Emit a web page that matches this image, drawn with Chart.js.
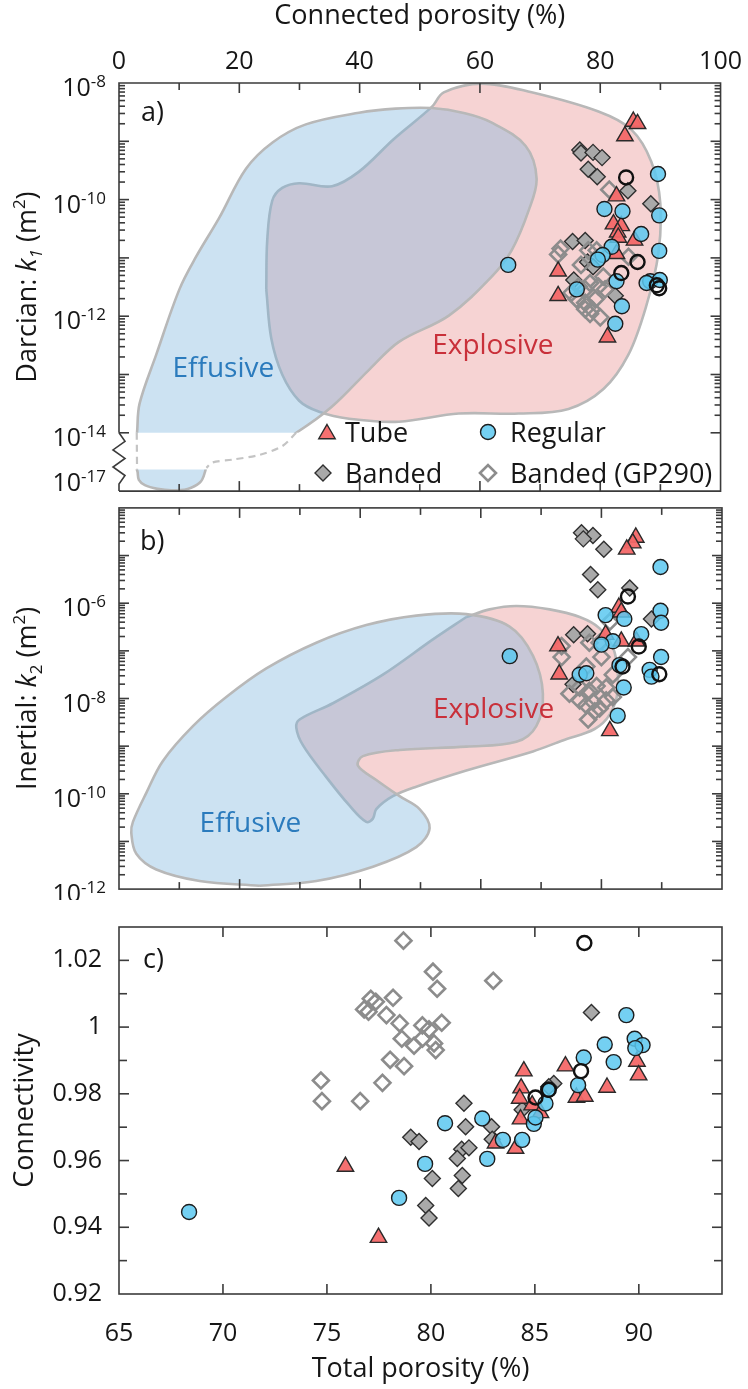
<!DOCTYPE html>
<html>
<head>
<meta charset="utf-8">
<title>Porosity, permeability and connectivity</title>
<script src="https://cdn.jsdelivr.net/npm/chart.js@4.4.1/dist/chart.umd.min.js"></script>
<style>
  html, body { margin: 0; padding: 0; background: #fff; }
  #figure { position: relative; width: 748px; height: 1389px; overflow: hidden; }
  #figure canvas { position: absolute; left: 0; }
</style>
</head>
<body>
<div id="figure">
  <canvas id="panelA" width="748" height="502" style="top:0px"></canvas>
  <canvas id="panelB" width="748" height="403" style="top:497px"></canvas>
  <canvas id="panelC" width="748" height="494" style="top:895px"></canvas>
</div>
<script>
const FONT = "'Open Sans', 'Noto Sans', 'DejaVu Sans', sans-serif";
const INK = "#161616";
const FRAME = "#3b3b3b";
const BLUE_TXT = "#2b7bbd";
const RED_TXT = "#c9303a";
Chart.defaults.font.family = FONT;
Chart.defaults.color = INK;

// ---- a) Darcian permeability: [connected porosity (%), log10 k1 (m2)] ----
const tubeA = [[85.5,-8.66],[86.2,-8.70],[84.1,-8.91],[82.7,-9.94],[82.2,-10.42],[83.5,-10.45],[82.9,-10.56],
  [83.0,-10.65],[85.7,-10.70],[82.7,-10.93],[73.0,-11.23],[73.0,-11.65],[81.2,-12.36]];
const bandedA = [[76.6,-9.15],[76.8,-9.20],[78.8,-9.19],[80.3,-9.28],[78.0,-9.48],[79.5,-9.61],[84.6,-9.85],
  [88.4,-10.07],[75.4,-10.72],[77.5,-10.70],[77.9,-11.07],[78.8,-11.15],[75.6,-11.38],[82.5,-11.65]];
const gp290A = [[81.5,-9.83],[73.4,-10.84],[73.0,-10.94],[78.0,-10.87],[79.4,-10.87],[84.7,-10.98],[75.2,-11.60],
  [76.4,-11.49],[77.5,-11.54],[78.3,-11.43],[79.7,-11.49],[80.8,-11.54],[76.1,-11.71],[77.5,-11.77],[79.2,-11.71],
  [77.5,-11.88],[78.6,-11.88],[80.0,-12.02],[78.3,-11.96],[76.8,-11.12],[80.5,-11.32]];
const regularA = [[89.6,-9.56],[80.7,-10.16],[83.7,-10.20],[89.8,-10.27],[86.8,-10.59],[89.8,-10.88],[81.9,-10.81],
  [80.4,-10.95],[64.7,-11.12],[88.3,-11.40],[89.9,-11.38],[87.7,-11.43],[82.7,-11.40],[83.6,-11.83],[82.5,-12.13],
  [79.6,-11.03],[76.1,-11.54]];
const openA = [[84.3,-9.62],[86.2,-11.07],[83.5,-11.26],[89.4,-11.47],[89.8,-11.52]];

// field outlines (same units); the k1 axis is broken below 1e-14
const effusiveA = [[15,-14.6],[2.9,-14.4],[3.0,-14.0],[3.42,-13.5],[6.19,-12.66],[10.04,-11.54],[12.82,-10.98],
  [16.68,-10.31],[21.11,-9.47],[25.52,-9.02],[31.06,-8.71],[39.9,-8.51],[46,-8.44],[52.0,-8.43],[57.5,-8.52],
  [61.96,-8.68],[67.6,-9.08],[69.42,-9.64],[68.09,-10.19],[65.27,-10.87],[61.96,-11.32],[54.83,-11.99],
  [46.53,-12.44],[41.56,-12.92],[35.42,-13.55],[29.45,-14.0],[27,-14.4]];
const effusiveLowA = [[8.5,-15.6],[2.9,-16.0],[3.1,-16.6],[3.3,-17.1],[4.3,-17.45],[6.4,-17.7],[8.7,-17.8],
  [11.4,-17.7],[13.4,-17.3],[14.2,-16.7],[14.3,-16.0]];
const explosiveA = [[24.48,-11.54],[24.64,-10.70],[25.47,-10.02],[27.13,-9.80],[29.95,-9.72],[35.42,-9.77],
  [39.9,-9.52],[45.7,-8.96],[52.0,-8.41],[53.99,-8.16],[60.3,-8.01],[68.59,-8.16],[79.7,-8.49],[85.17,-8.80],
  [88.49,-9.35],[89.98,-10.06],[89.65,-10.93],[87.66,-11.82],[84.68,-12.66],[80.53,-13.25],[74.73,-13.59],
  [66.44,-13.67],[56.49,-13.67],[46.53,-13.81],[38.24,-13.76],[33.27,-13.64],[29.95,-13.45],[27.13,-13.0],
  [25.31,-12.38]];
const gapLeftA = [[2.95,-14.0],[3.0,-16.42]];
const gapRightA = [[29.45,-14.0],[27.13,-14.88],[23.32,-15.46],[18.84,-15.77],[15.52,-15.96],[14.53,-16.31]];
const LOW_TOP_A = -16.42;

// ---- b) Inertial permeability: [connected porosity (%), log10 k2 (m2)] ----
const tubeB = [[85.7,-4.62],[85.2,-4.74],[84.2,-4.87],[82.9,-6.09],[83.3,-6.19],[72.8,-6.90],[73.0,-7.49],
  [83.3,-6.80],[85.8,-6.80],[81.4,-8.68],[80.7,-6.66]];
const bandedB = [[76.7,-4.52],[78.6,-4.58],[77.0,-4.65],[80.4,-4.87],[78.2,-5.40],[79.4,-5.72],[84.7,-5.68],
  [88.3,-6.33],[75.4,-6.66],[77.7,-6.64],[75.3,-7.70]];
const gp290B = [[81.4,-6.39],[73.4,-6.90],[73.4,-7.13],[78.0,-6.83],[79.7,-6.83],[80.0,-7.13],[84.4,-7.13],
  [77.5,-7.33],[81.9,-7.50],[74.7,-7.90],[76.4,-7.77],[78.0,-7.84],[79.2,-7.74],[80.8,-7.77],[81.9,-7.97],
  [76.4,-8.04],[77.5,-8.14],[78.6,-8.07],[79.7,-8.21],[77.8,-8.44],[78.9,-8.27],[80.8,-8.04]];
const regularB = [[89.8,-5.24],[80.7,-6.25],[83.8,-6.33],[89.8,-6.16],[89.9,-6.41],[86.6,-6.65],[81.9,-6.80],
  [80.0,-6.87],[89.9,-7.13],[64.8,-7.11],[83.0,-7.30],[88.0,-7.40],[88.3,-7.54],[76.4,-7.50],[77.5,-7.47],
  [83.7,-7.77],[82.7,-8.36]];
const openB = [[84.4,-5.86],[86.2,-6.91],[83.5,-7.33],[89.6,-7.49]];

const effusiveB = [[23.32,-11.93],[32.72,-11.83],[42.11,-11.53],[49.3,-11.12],[51.51,-10.72],[49.85,-10.32],
  [46.53,-10.05],[42.67,-9.71],[39.62,-9.41],[40.45,-9.21],[46.53,-9.08],[57.6,-9.01],[65.89,-8.91],[69.2,-8.58],
  [70.3,-7.9],[68.64,-7.1],[64.78,-6.49],[57.6,-6.23],[49.3,-6.26],[41.01,-6.46],[32.72,-6.83],[24.43,-7.37],
  [17.79,-7.97],[12.26,-8.58],[7.28,-9.31],[4.53,-9.98],[2.31,-10.59],[2.04,-10.82],[2.87,-11.26],[6.19,-11.59],
  [13.37,-11.83]];
const explosiveB = [[57.6,-6.29],[61.46,-6.13],[65.89,-6.06],[71.41,-6.13],[76.39,-6.29],[79.7,-6.53],
  [82.19,-7.03],[82.69,-7.84],[81.36,-8.34],[78.87,-8.64],[73.57,-8.88],[68.64,-9.11],[57.6,-9.51],[49.3,-9.85],
  [45.42,-10.05],[42.67,-10.32],[42.11,-10.52],[41.01,-10.59],[38.24,-10.25],[34.38,-9.65],[30.5,-8.98],
  [29.4,-8.61],[29.95,-8.44],[35.47,-8.10],[43.76,-7.50],[52.06,-6.76]];

// ---- c) connectivity: [total porosity (%), connectivity] ----
const tubeC = [[75.89,0.9582],[77.48,0.9369],[84.47,0.9868],[84.34,0.9817],[84.27,0.9786],[84.87,0.9766],
  [84.31,0.9724],[85.27,0.9743],[86.47,0.9883],[87.0,0.9789],[87.4,0.9792],[88.47,0.9819],[89.91,0.9897],
  [89.99,0.9856],[84.07,0.9636],[83.11,0.9652]];
const bandedC = [[87.72,1.0044],[81.59,0.9772],[81.67,0.9701],[79.03,0.9670],[79.43,0.9657],[82.92,0.9701],
  [82.95,0.9664],[81.48,0.9634],[81.83,0.9638],[81.27,0.9606],[85.91,0.9831],[84.39,0.9752],[85.67,0.9821],
  [80.07,0.9546],[81.51,0.9555],[81.32,0.9516],[79.75,0.9465],[79.91,0.9428]];
const gp290C = [[78.68,1.0259],[80.10,1.0166],[80.30,1.0115],[83.0,1.0139],[77.11,1.0085],[77.35,1.0076],
  [78.18,1.0088],[76.79,1.0053],[77.0,1.0046],[77.86,1.0036],[78.5,1.0011],[79.59,1.0005],[80.52,1.0013],
  [79.91,0.9993],[78.6,0.9965],[79.19,0.9944],[79.59,0.9965],[80.15,0.9951],[80.23,0.9931],[78.04,0.9902],
  [78.71,0.9883],[74.71,0.9840],[77.67,0.9833],[74.76,0.9778],[76.6,0.9778]];
const regularC = [[80.68,0.9712],[82.47,0.9726],[79.72,0.9590],[78.47,0.9488],[82.71,0.9605],[83.46,0.9662],
  [84.39,0.9662],[84.95,0.9710],[85.51,0.9771],[89.40,1.0036],[88.36,0.9948],[89.80,0.9965],[90.18,0.9946],
  [89.83,0.9937],[88.79,0.9895],[87.35,0.9909],[87.08,0.9826],[85.64,0.9812],[85.03,0.9729],[68.37,0.9446]];
const openC = [[87.38,1.0252],[87.22,0.9868],[85.67,0.9812],[85.03,0.9789]];

// ---- axes ----
const connectedTicks = [0, 20, 40, 60, 80, 100];
const k1Labels = [-8, -10, -12, -14, -17];
const k2Labels = [-6, -8, -10, -12];
const totalTicks = [65, 70, 75, 80, 85, 90];
const connTicks = [0.92, 0.94, 0.96, 0.98, 1, 1.02];

// below 1e-14 the k1 axis is broken: a few decades squeezed into the strip under it
const BREAK_AT = -14, SQUEEZE = 0.26;
const k1 = e => Math.pow(10, e >= BREAK_AT ? e : BREAK_AT + (e - BREAK_AT) * SQUEEZE);
const k2 = e => Math.pow(10, e);
const same = v => v;

const styles = {
  tube:    {pointStyle: 'triangle', radius: 9.5, bg: 'rgba(244,104,104,0.95)', border: '#2a2a2a', bw: 1.4},
  banded:  {pointStyle: 'rectRot',  radius: 8,   bg: '#a9a9a9', border: '#2f2f2f', bw: 1.4},
  gp290:   {pointStyle: 'rectRot',  radius: 8,   bg: 'rgba(255,255,255,0)', border: '#8c8c8c', bw: 2.6},
  regular: {pointStyle: 'circle',   radius: 7.5, bg: 'rgba(92,200,240,0.85)', border: '#1c1c1c', bw: 1.4},
  open:    {pointStyle: 'circle',   radius: 7,   bg: 'rgba(255,255,255,0)', border: '#111111', bw: 2.4}
};
const BLUE_FILL = 'rgba(120,180,220,0.38)';
const RED_FILL = 'rgba(225,110,110,0.30)';

function pointsOf(list, yMap) {
  return list.map(p => ({x: p[0], y: yMap(p[1])}));
}

function markerSet(label, list, st, order, yMap) {
  return {
    label: label, data: pointsOf(list, yMap), order: order,
    pointStyle: st.pointStyle, pointRadius: st.radius, pointHoverRadius: st.radius,
    pointBackgroundColor: st.bg, pointBorderColor: st.border,
    pointBorderWidth: st.bw, pointHoverBorderWidth: st.bw
  };
}

function fieldSet(label, list, fillColor, order, yMap, keep) {
  const data = pointsOf(list, yMap);
  data.push(data[0]);
  return {
    type: 'line', label: label, data: data, order: order, keep: keep,
    fill: 'shape', backgroundColor: fillColor,
    borderColor: '#b8b8b8', borderWidth: 2.6,
    pointRadius: 0, pointHoverRadius: 0, tension: 0.35
  };
}

function dashSet(list, order, yMap) {
  return {
    type: 'line', data: pointsOf(list, yMap), order: order, fill: false,
    borderColor: '#c4c4c4', borderWidth: 2.2, borderDash: [7, 5],
    pointRadius: 0, pointHoverRadius: 0, tension: 0.3
  };
}

// the broken axis needs some fields cut off at a given k; the filler draws
// inside beforeDatasetDraw, so the clip is set up right after the previous dataset
function clipFor(chart, meta) {
  const ctx = chart.ctx;
  ctx.save();
  const keep = meta && chart.data.datasets[meta.index].keep;
  if (!keep) return;
  const a = chart.chartArea, y = chart.scales.y;
  const top = keep[1] != null ? y.getPixelForValue(keep[1]) : a.top - 20;
  const bottom = keep[0] != null ? y.getPixelForValue(keep[0]) : a.bottom + 20;
  ctx.beginPath();
  ctx.rect(a.left - 20, top, a.right - a.left + 40, bottom - top);
  ctx.clip();
}
const cutPlugin = {
  id: 'cut',
  beforeDatasetsDraw(chart) {
    chart.$queue = chart.getSortedVisibleDatasetMetas().slice().reverse();
    chart.$pos = 0;
    if (chart.$queue.length) clipFor(chart, chart.$queue[0]);
  },
  afterDatasetDraw(chart) {
    chart.ctx.restore();
    const next = chart.$queue[++chart.$pos];
    if (next) clipFor(chart, next);
  }
};

function seg(ctx, x1, y1, x2, y2) {
  ctx.beginPath(); ctx.moveTo(x1, y1); ctx.lineTo(x2, y2); ctx.stroke();
}

function porosityTicks(ctx, x, a) {
  for (let v = 10; v < 100; v += 10) {
    const px = x.getPixelForValue(v), len = v % 20 === 0 ? 10 : 7;
    seg(ctx, px, a.top, px, a.top + len);
    seg(ctx, px, a.bottom, px, a.bottom - len);
  }
}

function decadeTicks(ctx, y, a, lo, hi) {
  for (let e = lo; e <= hi; e++) {
    const py = y.getPixelForValue(Math.pow(10, e));
    if (e > lo && e < hi) {
      seg(ctx, a.left, py, a.left + 10, py);
      seg(ctx, a.right, py, a.right - 10, py);
    }
    if (e === hi) continue;
    for (let m = 2; m <= 9; m++) {
      const q = y.getPixelForValue(m * Math.pow(10, e));
      seg(ctx, a.left, q, a.left + 6, q);
      seg(ctx, a.right, q, a.right - 6, q);
    }
  }
}

function powLabel(ctx, exp, xRight, y) {
  const sup = '-' + Math.abs(exp);
  ctx.textAlign = 'left';
  ctx.textBaseline = 'alphabetic';
  ctx.fillStyle = INK;
  ctx.font = '17px ' + FONT;
  const ws = ctx.measureText(sup).width;
  ctx.font = '25px ' + FONT;
  const wb = ctx.measureText('10').width;
  ctx.fillText('10', xRight - ws - wb, y + 13);
  ctx.font = '17px ' + FONT;
  ctx.fillText(sup, xRight - ws, y + 4);
}

function richTitle(ctx, parts, x, yMid) {
  ctx.save();
  ctx.translate(x, yMid);
  ctx.rotate(-Math.PI / 2);
  ctx.fillStyle = INK;
  ctx.textAlign = 'left';
  ctx.textBaseline = 'alphabetic';
  const fontOf = p => (p.it ? 'italic ' : '') + (p.small ? 17 : 27) + 'px ' + FONT;
  let total = 0;
  parts.forEach(p => { ctx.font = fontOf(p); p.w = ctx.measureText(p.t).width; total += p.w; });
  let cx = -total / 2;
  parts.forEach(p => { ctx.font = fontOf(p); ctx.fillText(p.t, cx, p.shift || 0); cx += p.w; });
  ctx.restore();
}

function note(ctx, text, x, y, color, size) {
  ctx.font = size + 'px ' + FONT;
  ctx.fillStyle = color;
  ctx.textAlign = 'left';
  ctx.textBaseline = 'alphabetic';
  ctx.fillText(text, x, y);
}

function drawMarker(ctx, st, x, y) {
  const r = st.radius;
  ctx.beginPath();
  if (st.pointStyle === 'circle') {
    ctx.arc(x, y, r, 0, 2 * Math.PI);
  } else if (st.pointStyle === 'triangle') {
    ctx.moveTo(x, y - r);
    ctx.lineTo(x + r * Math.sin(2 * Math.PI / 3), y - r * Math.cos(2 * Math.PI / 3));
    ctx.lineTo(x + r * Math.sin(4 * Math.PI / 3), y - r * Math.cos(4 * Math.PI / 3));
  } else {
    ctx.moveTo(x - r, y); ctx.lineTo(x, y - r); ctx.lineTo(x + r, y); ctx.lineTo(x, y + r);
  }
  ctx.closePath();
  ctx.fillStyle = st.bg; ctx.fill();
  ctx.lineWidth = st.bw; ctx.strokeStyle = st.border; ctx.stroke();
}

const titleA = [{t: 'Darcian: '}, {t: 'k', it: true}, {t: '1', it: true, small: true, shift: 6},
  {t: ' (m'}, {t: '2', small: true, shift: -11}, {t: ')'}];
const titleB = [{t: 'Inertial: '}, {t: 'k', it: true}, {t: '2', small: true, shift: 6},
  {t: ' (m'}, {t: '2', small: true, shift: -11}, {t: ')'}];

const legendItems = [
  {key: 'tube', text: 'Tube', mx: 327, my: 434, tx: 345, ty: 442},
  {key: 'regular', text: 'Regular', mx: 488, my: 432, tx: 510, ty: 442},
  {key: 'banded', text: 'Banded', mx: 323, my: 473, tx: 345, ty: 483},
  {key: 'gp290', text: 'Banded (GP290)', mx: 488, my: 473, tx: 510, ty: 483}
];

const frameA = {
  id: 'frameA',
  afterDatasetsDraw(chart) {
    const {ctx, chartArea: a, scales: {x, y}} = chart;
    ctx.save();
    ctx.strokeStyle = FRAME;
    ctx.lineWidth = 1.6;
    const yBreak = y.getPixelForValue(1e-14);
    ctx.beginPath();
    ctx.moveTo(a.left, yBreak); ctx.lineTo(a.left, a.top); ctx.lineTo(a.right, a.top);
    ctx.lineTo(a.right, a.bottom); ctx.lineTo(a.left, a.bottom);
    ctx.stroke();
    // zigzag marking the axis break
    const yEnd = a.bottom - 7, h = (yEnd - yBreak) / 6;
    ctx.beginPath(); ctx.moveTo(a.left, yBreak);
    for (let i = 1; i < 6; i++) ctx.lineTo(a.left + (i % 2 ? 6 : -6), yBreak + i * h);
    ctx.lineTo(a.left, yEnd); ctx.lineTo(a.left, a.bottom);
    ctx.stroke();
    porosityTicks(ctx, x, a);
    decadeTicks(ctx, y, a, -14, -8);
    seg(ctx, a.left, yBreak, a.left + 10, yBreak);
    seg(ctx, a.right, yBreak, a.right - 10, yBreak);
    k1Labels.forEach(e => powLabel(ctx, e, a.left - 13, y.getPixelForValue(k1(e))));
    richTitle(ctx, titleA, 36, (a.top + a.bottom) / 2);
    note(ctx, 'a)', a.left + 22, a.top + 38, INK, 27);
    note(ctx, 'Effusive', x.getPixelForValue(8.9), y.getPixelForValue(k1(-13.05)), BLUE_TXT, 28);
    note(ctx, 'Explosive', x.getPixelForValue(52.06), y.getPixelForValue(k1(-12.64)), RED_TXT, 28);
    legendItems.forEach(it => {
      drawMarker(ctx, styles[it.key], it.mx, it.my);
      note(ctx, it.text, it.tx, it.ty, INK, 27);
    });
    ctx.restore();
  }
};

const frameB = {
  id: 'frameB',
  afterDatasetsDraw(chart) {
    const {ctx, chartArea: a, scales: {x, y}} = chart;
    ctx.save();
    ctx.strokeStyle = FRAME;
    ctx.lineWidth = 1.6;
    ctx.strokeRect(a.left, a.top, a.right - a.left, a.bottom - a.top);
    porosityTicks(ctx, x, a);
    decadeTicks(ctx, y, a, -12, -4);
    k2Labels.forEach(e => powLabel(ctx, e, a.left - 13, y.getPixelForValue(k2(e))));
    richTitle(ctx, titleB, 36, (a.top + a.bottom) / 2);
    note(ctx, 'b)', a.left + 21, a.top + 42, INK, 27);
    note(ctx, 'Effusive', x.getPixelForValue(13.37), y.getPixelForValue(k2(-10.81)), BLUE_TXT, 28);
    note(ctx, 'Explosive', x.getPixelForValue(52.06), y.getPixelForValue(k2(-8.41)), RED_TXT, 28);
    ctx.restore();
  }
};

const frameC = {
  id: 'frameC',
  afterDatasetsDraw(chart) {
    const {ctx, chartArea: a, scales: {x, y}} = chart;
    ctx.save();
    ctx.strokeStyle = FRAME;
    ctx.lineWidth = 1.6;
    ctx.strokeRect(a.left, a.top, a.right - a.left, a.bottom - a.top);
    totalTicks.slice(1).forEach(v => {
      const px = x.getPixelForValue(v);
      seg(ctx, px, a.top, px, a.top + 10);
      seg(ctx, px, a.bottom, px, a.bottom - 10);
    });
    for (let i = 93; i <= 102; i++) {
      const py = y.getPixelForValue(i / 100), len = i % 2 === 0 ? 10 : 8;
      seg(ctx, a.left, py, a.left + len, py);
      seg(ctx, a.right, py, a.right - len, py);
    }
    note(ctx, 'c)', a.left + 24, a.top + 41, INK, 27);
    ctx.restore();
  }
};

const hiddenAxis = (min, max, type) => ({type: type, min: min, max: max, display: false});

function commonOptions(padding, scales) {
  return {
    responsive: false, animation: false, devicePixelRatio: 1, events: [],
    layout: {padding: padding},
    plugins: {legend: {display: false}, tooltip: {enabled: false}},
    scales: scales
  };
}

function pointSets(lists, yMap) {
  return [
    markerSet('Open', lists.open, styles.open, 0, yMap),
    markerSet('Regular', lists.regular, styles.regular, 1, yMap),
    markerSet('Tube', lists.tube, styles.tube, 2, yMap),
    markerSet('Banded (GP290)', lists.gp290, styles.gp290, 3, yMap),
    markerSet('Banded', lists.banded, styles.banded, 4, yMap)
  ];
}

new Chart(document.getElementById('panelA'), {
  type: 'scatter',
  data: {
    datasets: pointSets({open: openA, regular: regularA, tube: tubeA, gp290: gp290A, banded: bandedA}, k1).concat([
      fieldSet('Effusive', effusiveA, BLUE_FILL, 5, k1, [1e-14, null]),
      fieldSet('Explosive', explosiveA, RED_FILL, 6, k1),
      fieldSet('Effusive', effusiveLowA, BLUE_FILL, 7, k1, [null, k1(LOW_TOP_A)]),
      dashSet(gapLeftA, 8, k1),
      dashSet(gapRightA, 8, k1)
    ])
  },
  options: commonOptions({left: 119, right: 26, top: 0, bottom: 3}, {
    x: {
      type: 'linear', position: 'top', min: 0, max: 100,
      afterBuildTicks: s => { s.ticks = connectedTicks.map(v => ({value: v})); },
      ticks: {font: {size: 25}, color: INK, padding: 6, autoSkip: false, maxRotation: 0},
      grid: {display: false, drawTicks: false},
      border: {display: false},
      title: {display: true, text: 'Connected porosity (%)', color: INK, font: {size: 27}, padding: {top: 0, bottom: 0}},
      afterFit: s => { s.height = 83; }
    },
    y: hiddenAxis(1e-15, 1e-8, 'logarithmic')
  }),
  plugins: [cutPlugin, frameA]
});

new Chart(document.getElementById('panelB'), {
  type: 'scatter',
  data: {
    datasets: pointSets({open: openB, regular: regularB, tube: tubeB, gp290: gp290B, banded: bandedB}, k2).concat([
      fieldSet('Effusive', effusiveB, BLUE_FILL, 5, k2),
      fieldSet('Explosive', explosiveB, RED_FILL, 6, k2)
    ])
  },
  options: commonOptions({left: 119, right: 26, top: 2, bottom: 3}, {
    x: hiddenAxis(0, 100, 'linear'),
    y: hiddenAxis(1e-12, 1e-4, 'logarithmic')
  }),
  plugins: [cutPlugin, frameB]
});

new Chart(document.getElementById('panelC'), {
  type: 'scatter',
  data: {
    datasets: pointSets({open: openC, regular: regularC, tube: tubeC, gp290: gp290C, banded: bandedC}, same)
  },
  options: commonOptions({left: 0, right: 26, top: 3, bottom: 0}, {
    x: {
      type: 'linear', position: 'bottom', min: 65, max: 94,
      afterBuildTicks: s => { s.ticks = totalTicks.map(v => ({value: v})); },
      ticks: {font: {size: 25}, color: INK, padding: 25, autoSkip: false, maxRotation: 0},
      grid: {display: false, drawTicks: false},
      border: {display: false},
      title: {display: true, text: 'Total porosity (%)', color: INK, font: {size: 27}, padding: {top: 0, bottom: 3}},
      afterFit: s => { s.height = 95; }
    },
    y: {
      type: 'linear', position: 'left', min: 0.92, max: 1.03,
      afterBuildTicks: s => { s.ticks = connTicks.map(v => ({value: v})); },
      ticks: {font: {size: 25}, color: INK, padding: 17, autoSkip: false,
        callback: v => String(+Number(v).toFixed(2))},
      grid: {display: false, drawTicks: false},
      border: {display: false},
      title: {display: true, text: 'Connectivity', color: INK, font: {size: 27}, padding: {top: 9, bottom: 0}},
      afterFit: s => { s.width = 119; }
    }
  }),
  plugins: [cutPlugin, frameC]
});
</script>
</body>
</html>
